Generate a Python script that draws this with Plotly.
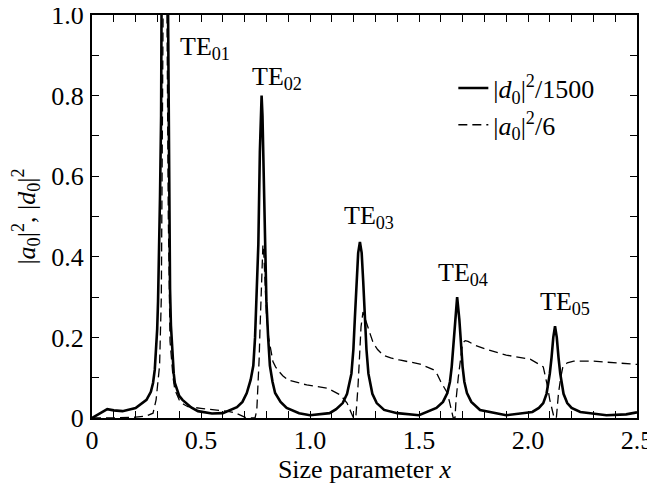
import plotly.graph_objects as go

# |d0|^2/1500 (solid)
d_x = [0.00, 0.03, 0.07, 0.10, 0.14, 0.20, 0.25, 0.27, 0.28, 0.288, 0.294, 0.299, 0.303, 0.308,
       0.312, 0.317, 0.321, 0.334, 0.349, 0.352, 0.355, 0.358, 0.362, 0.368, 0.375, 0.38, 0.39,
       0.40, 0.415, 0.43, 0.455, 0.486, 0.55, 0.60, 0.665, 0.69, 0.71, 0.728, 0.74, 0.748,
       0.755, 0.763, 0.77, 0.774, 0.778, 0.782, 0.786, 0.793, 0.80, 0.808, 0.816, 0.828, 0.84,
       0.865, 0.893, 0.95, 1.00, 1.09, 1.12, 1.15, 1.17, 1.19, 1.199, 1.206, 1.214, 1.221,
       1.229, 1.237, 1.244, 1.252, 1.259, 1.268, 1.286, 1.306, 1.34, 1.40, 1.50, 1.58, 1.61,
       1.63, 1.642, 1.65, 1.658, 1.665, 1.675, 1.685, 1.692, 1.70, 1.708, 1.72, 1.74, 1.78,
       1.90, 2.02, 2.05, 2.07, 2.085, 2.10, 2.108, 2.116, 2.124, 2.132, 2.14, 2.148, 2.163,
       2.18, 2.20, 2.24, 2.36, 2.45, 2.50]
d_y = [0.000, 0.010, 0.022, 0.019, 0.017, 0.025, 0.045, 0.065, 0.087, 0.12, 0.17, 0.22, 0.29, 0.40,
       0.55, 0.75, 1.00, 3.00, 1.00, 0.75, 0.50, 0.32, 0.23, 0.16, 0.11, 0.087, 0.068,
       0.055, 0.045, 0.037, 0.026, 0.017, 0.011, 0.012, 0.027, 0.040, 0.062, 0.095, 0.13, 0.20,
       0.29, 0.43, 0.66, 0.75, 0.80, 0.75, 0.66, 0.43, 0.29, 0.20, 0.13, 0.09, 0.062,
       0.040, 0.025, 0.012, 0.007, 0.012, 0.022, 0.037, 0.060, 0.11, 0.17, 0.25, 0.34, 0.41,
       0.437, 0.41, 0.34, 0.25, 0.17, 0.11, 0.060, 0.037, 0.020, 0.012, 0.007, 0.025, 0.040,
       0.062, 0.09, 0.127, 0.18, 0.245, 0.30, 0.245, 0.18, 0.127, 0.09, 0.062, 0.040, 0.020,
       0.007, 0.015, 0.025, 0.037, 0.060, 0.11, 0.15, 0.20, 0.228, 0.20, 0.15, 0.11, 0.060,
       0.037, 0.025, 0.015, 0.007, 0.009, 0.014]

# |a0|^2/6 (dashed)
a_x = [0.00, 0.10, 0.20, 0.25, 0.28, 0.294, 0.31, 0.318, 0.326, 0.335, 0.344, 0.35, 0.358,
       0.365, 0.372, 0.38, 0.39, 0.40, 0.42, 0.44, 0.50, 0.57, 0.63, 0.66, 0.68, 0.70, 0.72,
       0.748, 0.756, 0.763, 0.767, 0.770, 0.775, 0.780, 0.784, 0.788, 0.793, 0.80, 0.81, 0.82,
       0.83, 0.842, 0.855, 0.875, 0.90, 0.985, 1.08, 1.14, 1.17, 1.19, 1.20, 1.21, 1.215, 1.22,
       1.227, 1.234, 1.243, 1.25, 1.26, 1.275, 1.29, 1.31, 1.335, 1.37, 1.41, 1.505, 1.565,
       1.585, 1.60, 1.615, 1.63, 1.64, 1.648, 1.657, 1.665, 1.67, 1.68, 1.69, 1.70, 1.712,
       1.725, 1.76, 1.81, 1.90, 2.01, 2.07, 2.08, 2.09, 2.10, 2.11, 2.12, 2.13, 2.14, 2.15,
       2.16, 2.18, 2.21, 2.30, 2.41, 2.50]
a_y = [0.000, 0.000, 0.002, 0.005, 0.012, 0.045, 0.13, 0.30, 1.00, 3.00, 1.00, 0.50, 0.19,
       0.14, 0.10, 0.07, 0.055, 0.045, 0.034, 0.028, 0.024, 0.020, 0.016, 0.012, 0.007, 0.002, 0.000,
       0.000, 0.020, 0.087, 0.15, 0.21, 0.28, 0.38, 0.43, 0.41, 0.35, 0.26, 0.20, 0.165,
       0.14, 0.127, 0.117, 0.105, 0.094, 0.082, 0.074, 0.057, 0.037, 0.012, 0.000, 0.000, 0.030, 0.077,
       0.15, 0.226, 0.263, 0.25, 0.235, 0.21, 0.186, 0.17, 0.156, 0.149, 0.144, 0.134, 0.12,
       0.107, 0.09, 0.077, 0.062, 0.040, 0.020, 0.000, 0.000, 0.045, 0.10, 0.148, 0.186, 0.192,
       0.19, 0.18, 0.17, 0.156, 0.146, 0.127, 0.105, 0.077, 0.045, 0.020, 0.000, 0.000, 0.062, 0.10,
       0.127, 0.137, 0.141, 0.141, 0.137, 0.133]

mode_labels = ["TE<sub>01</sub>", "TE<sub>02</sub>", "TE<sub>03</sub>", "TE<sub>04</sub>", "TE<sub>05</sub>"]
mode_label_x = [0.52, 0.85, 1.27, 1.70, 2.17]
mode_label_y = [0.918, 0.844, 0.499, 0.357, 0.285]

x_tickvals = [0, 0.5, 1.0, 1.5, 2.0, 2.5]
x_ticktext = ["0", "0.5", "1.0", "1.5", "2.0", "2.5"]
y_tickvals = [0, 0.2, 0.4, 0.6, 0.8, 1.0]
y_ticktext = ["0", "0.2", "0.4", "0.6", "0.8", "1.0"]

FONT = "Liberation Serif, Times New Roman, serif"
FS = 26

fig = go.Figure()
fig.add_trace(go.Scatter(x=d_x, y=d_y, mode="lines", name="|<i>d</i><sub>0</sub>|<sup>2</sup>/1500",
                         line=dict(color="black", width=2.6)))
fig.add_trace(go.Scatter(x=a_x, y=a_y, mode="lines", name="|<i>a</i><sub>0</sub>|<sup>2</sup>/6",
                         line=dict(color="black", width=1.3, dash="9px,5px")))

for t, lx, ly in zip(mode_labels, mode_label_x, mode_label_y):
    fig.add_annotation(x=lx, y=ly, text=t, showarrow=False,
                       font=dict(family=FONT, size=FS, color="black"))

axis_common = dict(showline=True, linecolor="black", linewidth=2, mirror="ticks",
                   ticks="inside", ticklen=7, tickwidth=1.3, tickcolor="black",
                   showgrid=False, zeroline=False, ticklabeloverflow="allow",
                   tickfont=dict(family=FONT, size=FS, color="black"),
                   minor=dict(dtick=0.1, ticks="inside", ticklen=7, tickwidth=1.3, tickcolor="black"))

fig.update_xaxes(range=[0, 2.5], tickvals=x_tickvals, ticktext=x_ticktext, ticklabelstandoff=-2,
                 title=dict(text="Size parameter <i>x</i>", font=dict(family=FONT, size=FS, color="black"),
                            standoff=0),
                 **axis_common)
fig.update_yaxes(range=[0, 1.0], tickvals=y_tickvals, ticktext=y_ticktext, ticklabelstandoff=1,
                 title=dict(text="|<i>a</i><sub>0</sub>|<sup>2</sup>, |<i>d</i><sub>0</sub>|<sup>2</sup>",
                            font=dict(family=FONT, size=FS, color="black"), standoff=9),
                 **axis_common)

# page body has an 8px margin, so the figure is sized to fill the 655x486 window from (8, 8)
fig.update_layout(width=647, height=478, margin=dict(l=84, r=18, t=7, b=68, autoexpand=False),
                  paper_bgcolor="white", plot_bgcolor="white",
                  font=dict(family=FONT, size=FS, color="black"),
                  legend=dict(x=0.663, y=0.877, xanchor="left", yanchor="top",
                              bgcolor="rgba(0,0,0,0)", font=dict(family=FONT, size=FS, color="black"),
                              tracegroupgap=0))

fig.write_html("out.html")
